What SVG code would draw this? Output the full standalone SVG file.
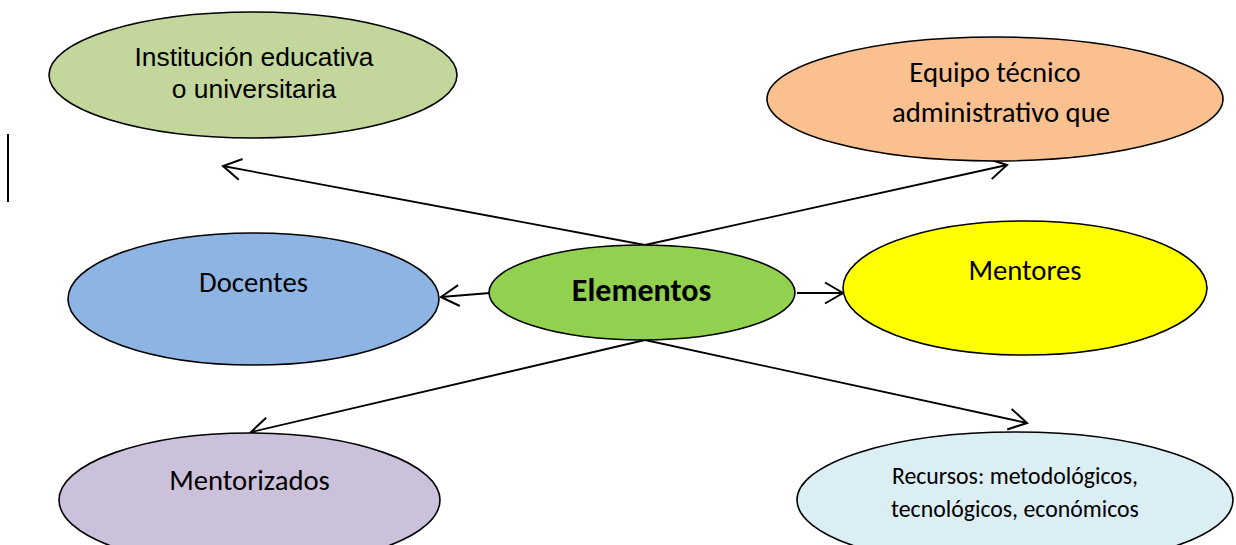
<svg xmlns="http://www.w3.org/2000/svg" width="1236" height="545" viewBox="0 0 1236 545">
<style>
  .node { stroke: #000; stroke-width: 1.6; }
  .lbl { font-family: Calibri, Carlito, Lato, "Open Sans", sans-serif; font-size: 28.7px; fill: #000; text-anchor: middle; }
  .lbl.big { font-size: 32px; font-weight: bold; }
  .lbl.small { font-size: 23.8px; }
  .arial { font-family: "Liberation Sans", Arial, sans-serif; font-size: 26.4px; fill: #000; text-anchor: middle; }
  .conn { stroke: #000; stroke-width: 1.8; fill: none; marker-end: url(#arr); }
</style>
<defs>
  <marker id="arr" markerUnits="userSpaceOnUse" markerWidth="30" markerHeight="30" viewBox="-25 -15 30 30" refX="0" refY="0" orient="auto">
    <path d="M-18,-10.5 L0,0 L-18,10.5" fill="none" stroke="#000" stroke-width="2"/>
  </marker>
</defs>
<rect width="1236" height="545" fill="#fff"/>
<line x1="8" y1="134" x2="8" y2="202" stroke="#000" stroke-width="2"/>
<g id="connectors">
  <path class="conn" d="M645,245 L223,166"/>
  <path class="conn" d="M645,245 L1007,165"/>
  <path class="conn" d="M490,293 L441,297"/>
  <path class="conn" d="M797,293 L843,293"/>
  <path class="conn" d="M645,340 L251,432"/>
  <path class="conn" d="M645,340 L1027,423"/>
</g>
<g id="institucion">
  <ellipse class="node" cx="253" cy="75" rx="204" ry="63" fill="#C3D69B"/>
  <text class="arial" x="254" y="66">Institución educativa</text>
  <text class="arial" x="254" y="98">o universitaria</text>
</g>
<g id="equipo">
  <ellipse class="node" cx="995" cy="99" rx="228" ry="62" fill="#FAC090"/>
  <text class="lbl" x="995" y="82">Equipo técnico</text>
  <text class="lbl" x="1001" y="122">administrativo que</text>
</g>
<g id="docentes">
  <ellipse class="node" cx="253.5" cy="299" rx="185.5" ry="66" fill="#8EB4E3"/>
  <text class="lbl" x="253.5" y="292">Docentes</text>
</g>
<g id="elementos">
  <ellipse class="node" cx="642" cy="292.5" rx="153" ry="47.5" fill="#92D050"/>
  <text class="lbl big" x="641.5" y="301">Elementos</text>
</g>
<g id="mentores">
  <ellipse class="node" cx="1025" cy="288" rx="182" ry="67" fill="#FFFF00"/>
  <text class="lbl" x="1025" y="280">Mentores</text>
</g>
<g id="mentorizados">
  <ellipse class="node" cx="249.5" cy="500" rx="190.5" ry="67" fill="#CCC1DA"/>
  <text class="lbl" x="249.5" y="490">Mentorizados</text>
</g>
<g id="recursos">
  <ellipse class="node" cx="1015" cy="500" rx="218" ry="68" fill="#DBEEF4"/>
  <text class="lbl small" x="1015" y="484">Recursos: metodológicos,</text>
  <text class="lbl small" x="1015" y="517">tecnológicos, económicos</text>
</g>
</svg>
